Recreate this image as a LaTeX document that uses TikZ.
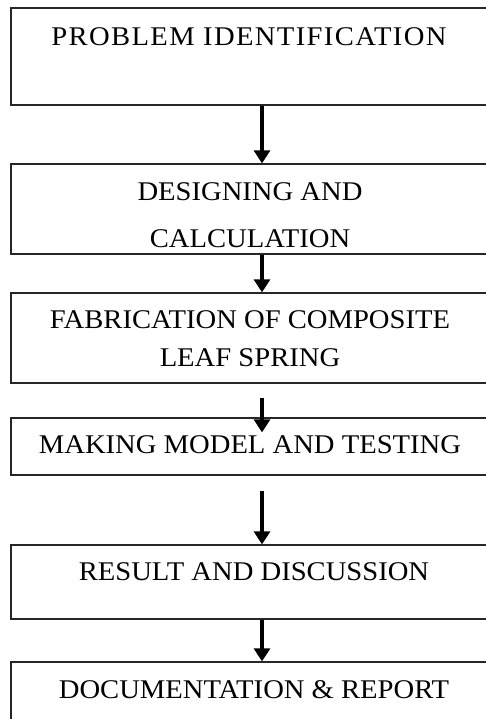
\documentclass[tikz,border=0pt]{standalone}
\usepackage{fontspec}
\setmainfont{Liberation Serif}[FakeStretch=1.06]
\usetikzlibrary{arrows.meta, positioning, calc}

\begin{document}
\begin{tikzpicture}[
  x=1pt, y=-1pt,
  % Define styles for boxes, labels and arrows
  stepbox/.style={draw=black!85, line width=1.3pt, minimum width=476pt, inner sep=0pt},
  steptext/.style={font=\fontsize{27}{32}\selectfont, align=center, anchor=base, inner sep=0pt},
  arrow/.style={-{Triangle[length=13pt, width=16pt]}, line width=3.5pt}
]
\useasboundingbox (0,0) rectangle (486,719);

% Boxes
\node[stepbox, minimum height=97pt] (problem) at (249, 56.5) {};
\node[stepbox, minimum height=90pt] (design) at (249, 209) {};
\node[stepbox, minimum height=90pt] (fabric) at (249, 338) {};
\node[stepbox, minimum height=57pt] (model) at (249, 446.5) {};
\node[stepbox, minimum height=74pt] (result) at (249, 582) {};
\node[stepbox, minimum height=80pt] (report) at (249, 702) {};

% Labels (two-line labels sit on their last baseline)
\node[steptext] (problem_txt) at (249, 46) {\addfontfeature{LetterSpace=5}PROBLEM IDENTIFICATION};
\node[steptext] (design_txt) at (250, 247) {DESIGNING AND\\[15pt]CALCULATION};
\node[steptext] (fabric_txt) at (250, 366) {FABRICATION OF COMPOSITE\\[6pt]LEAF SPRING};
\node[steptext] (model_txt) at (250, 453) {MAKING MODEL AND\ TESTING};
\node[steptext] (result_txt) at (254, 580) {RESULT AND DISCUSSION};
\node[steptext] (report_txt) at (254, 698) {DOCUMENTATION \& REPORT};

% Arrows along one axis
\coordinate (axis) at (262, 0);
\draw[arrow] (problem.south -| axis) -- (design.north -| axis);
\draw[arrow] (design.south -| axis) -- (fabric.north -| axis);
\draw[arrow, shorten <=14pt, shorten >=-15pt] (fabric.south -| axis) -- (model.north -| axis);
\draw[arrow, shorten <=15pt] (model.south -| axis) -- (result.north -| axis);
\draw[arrow] (result.south -| axis) -- (report.north -| axis);

\end{tikzpicture}
\end{document}
